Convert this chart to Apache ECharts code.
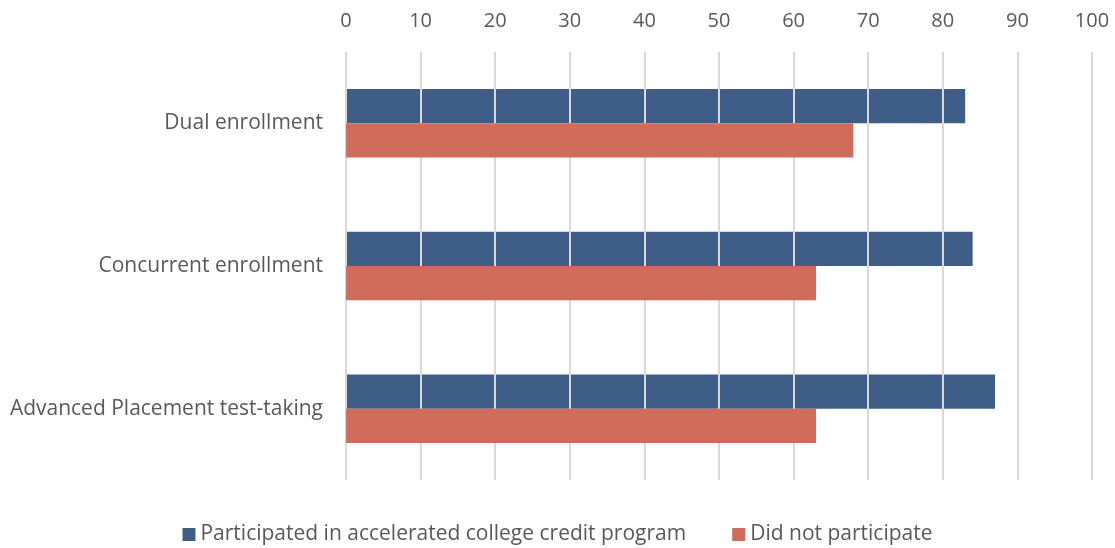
<!DOCTYPE html>
<html>
<head>
<meta charset="utf-8">
<script src="https://cdn.jsdelivr.net/npm/echarts@6/dist/echarts.min.js"></script>
<style>
  html, body { margin: 0; padding: 0; background: #fff; }
  #chart { width: 1115px; height: 548px; }
</style>
</head>
<body>
<div id="chart"></div>
<script>
const categories = ['Dual enrollment', 'Concurrent enrollment', 'Advanced Placement test-taking'];
const participated = [83, 84, 87];
const notParticipated = [68, 63, 63];
const seriesNames = ['Participated in accelerated college credit program', 'Did not participate'];

const FONT = 'Open Sans';
const TEXT = '#595959';

const chart = echarts.init(document.getElementById('chart'));
chart.setOption({
  animation: false,
  textStyle: { fontFamily: FONT },
  grid: { left: 346, right: 23, top: 52, bottom: 68 },
  legend: {
    bottom: -2,
    left: 'center',
    itemWidth: 13,
    itemHeight: 13,
    itemGap: 46,
    icon: 'rect',
    textStyle: { color: TEXT, fontSize: 21, fontFamily: FONT },
    data: seriesNames
  },
  xAxis: {
    type: 'value',
    position: 'top',
    min: 0,
    max: 100,
    interval: 10,
    z: 1.5,
    axisLine: { show: false },
    axisTick: { show: false },
    axisLabel: { color: TEXT, fontSize: 20, margin: 21, fontFamily: FONT },
    splitLine: { lineStyle: { color: '#d9d9d9', width: 2 } }
  },
  yAxis: {
    type: 'category',
    inverse: true,
    data: categories,
    axisLine: { show: false },
    axisTick: { show: false },
    axisLabel: { color: TEXT, fontSize: 21, margin: 23, fontFamily: FONT }
  },
  series: [
    {
      name: seriesNames[0],
      type: 'bar',
      data: participated,
      z: 1,
      barGap: '0%',
      barCategoryGap: '52%',
      itemStyle: { color: '#3f5e87' }
    },
    {
      name: seriesNames[1],
      type: 'bar',
      data: notParticipated,
      z: 2,
      itemStyle: { color: '#d06c5c' }
    }
  ]
});
</script>
</body>
</html>
